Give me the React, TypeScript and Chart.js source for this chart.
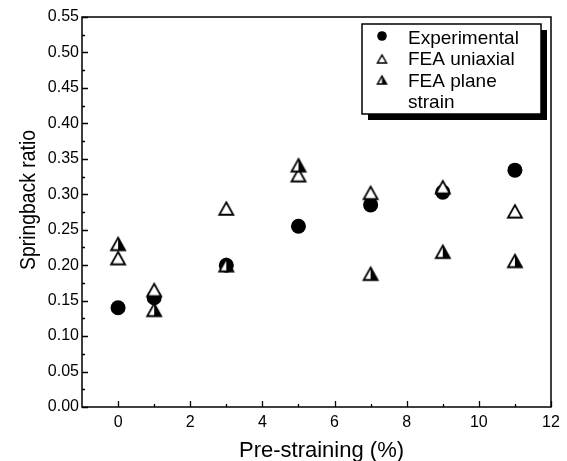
import React, { useEffect, useRef } from 'react';
import { Chart, registerables } from 'chart.js';

Chart.register(...registerables);

// ---- data ----
const preStraining = [0, 1, 3, 5, 7, 9, 11];
const experimental = [0.14, 0.154, 0.2, 0.255, 0.285, 0.303, 0.334];
const feaUniaxial = [0.21, 0.165, 0.28, 0.327, 0.302, 0.31, 0.276];
const feaPlaneStrain = [0.23, 0.137, 0.2, 0.341, 0.188, 0.219, 0.206];

const xTicks = [0, 2, 4, 6, 8, 10, 12];
const xMinorTicks = [1, 3, 5, 7, 9, 11];
const yTicks = [0, 0.05, 0.1, 0.15, 0.2, 0.25, 0.3, 0.35, 0.4, 0.45, 0.5, 0.55];
const yMinorTicks = [0.025, 0.075, 0.125, 0.175, 0.225, 0.275, 0.325, 0.375, 0.425, 0.475, 0.525];
const legendLabels = ['Experimental', 'FEA uniaxial', 'FEA plane', 'strain'];
const xTitle = 'Pre-straining (%)';
const yTitle = 'Springback ratio';

const FONT = '"Liberation Sans", Arial, sans-serif';

function makeTriangle(w: number, h: number, kind: 'open' | 'half', lw: number) {
  const pad = Math.ceil(lw) + 1;
  const c = document.createElement('canvas');
  c.width = Math.ceil(w + pad * 2);
  c.height = Math.ceil(h + pad * 2);
  const ctx = c.getContext('2d')!;
  const cx = c.width / 2;
  const top = (c.height - h) / 2;
  const bot = top + h;
  const l = cx - w / 2;
  const r = cx + w / 2;
  ctx.beginPath();
  ctx.moveTo(cx, top);
  ctx.lineTo(r, bot);
  ctx.lineTo(l, bot);
  ctx.closePath();
  ctx.fillStyle = '#fff';
  ctx.fill();
  if (kind === 'half') {
    ctx.beginPath();
    ctx.moveTo(cx, top);
    ctx.lineTo(r, bot);
    ctx.lineTo(cx, bot);
    ctx.closePath();
    ctx.fillStyle = '#000';
    ctx.fill();
  }
  ctx.beginPath();
  ctx.moveTo(cx, top);
  ctx.lineTo(r, bot);
  ctx.lineTo(l, bot);
  ctx.closePath();
  ctx.lineWidth = lw;
  ctx.lineJoin = 'miter';
  ctx.strokeStyle = '#000';
  ctx.stroke();
  return c;
}

export default function App() {
  const ref = useRef<HTMLCanvasElement | null>(null);

  useEffect(() => {
    const canvas = ref.current;
    if (!canvas) return;

    const openTri = makeTriangle(14, 12.5, 'open', 1.8);
    const halfTri = makeTriangle(14, 12.5, 'half', 1.8);
    const openTriSmall = makeTriangle(9, 8, 'open', 1.5);
    const halfTriSmall = makeTriangle(9, 8, 'half', 1.5);

    const framePlugin = {
      id: 'frame',
      afterDraw(chart: any) {
        const ctx = chart.ctx as CanvasRenderingContext2D;
        const a = chart.chartArea;
        const xs = chart.scales.x;
        const ys = chart.scales.y;
        ctx.save();
        ctx.strokeStyle = '#000';
        ctx.lineWidth = 1.5;
        ctx.strokeRect(a.left, a.top, a.right - a.left, a.bottom - a.top);

        ctx.lineWidth = 1.3;
        ctx.beginPath();
        xTicks.forEach((v) => {
          const px = Math.round(xs.getPixelForValue(v)) + 0.5;
          ctx.moveTo(px, a.bottom);
          ctx.lineTo(px, a.bottom - 6);
        });
        xMinorTicks.forEach((v) => {
          const px = Math.round(xs.getPixelForValue(v)) + 0.5;
          ctx.moveTo(px, a.bottom);
          ctx.lineTo(px, a.bottom - 3);
        });
        yTicks.forEach((v) => {
          const py = Math.round(ys.getPixelForValue(v)) + 0.5;
          ctx.moveTo(a.left, py);
          ctx.lineTo(a.left + 6, py);
        });
        yMinorTicks.forEach((v) => {
          const py = Math.round(ys.getPixelForValue(v)) + 0.5;
          ctx.moveTo(a.left, py);
          ctx.lineTo(a.left + 3, py);
        });
        ctx.stroke();

        // axis titles
        ctx.fillStyle = '#000';
        ctx.font = `22px ${FONT}`;
        ctx.textAlign = 'center';
        ctx.textBaseline = 'alphabetic';
        ctx.fillText(xTitle, (a.left + a.right) / 2 + 5, 457);

        ctx.save();
        ctx.translate(35, (a.top + a.bottom) / 2 - 12);
        ctx.rotate(-Math.PI / 2);
        ctx.scale(0.88, 1);
        ctx.font = `22px ${FONT}`;
        ctx.fillText(yTitle, 0, 0);
        ctx.restore();

        // legend
        const bx = 362, by = 24, bw = 179, bh = 90, sh = 6;
        ctx.fillStyle = '#000';
        ctx.fillRect(bx + sh, by + sh, bw, bh);
        ctx.fillStyle = '#fff';
        ctx.fillRect(bx, by, bw, bh);
        ctx.lineWidth = 1.5;
        ctx.strokeRect(bx, by, bw, bh);

        ctx.fillStyle = '#000';
        ctx.beginPath();
        ctx.arc(382, 36, 4.8, 0, Math.PI * 2);
        ctx.fill();
        ctx.drawImage(openTriSmall, 382 - openTriSmall.width / 2, 59 - openTriSmall.height / 2);
        ctx.drawImage(halfTriSmall, 382 - halfTriSmall.width / 2, 80 - halfTriSmall.height / 2);

        ctx.font = `19px ${FONT}`;
        ctx.textAlign = 'left';
        const baselines = [43.5, 65, 86.5, 108];
        legendLabels.forEach((t, i) => ctx.fillText(t, 408, baselines[i]));
        ctx.restore();
      },
    };

    const chart = new Chart(canvas, {
      type: 'scatter',
      data: {
        datasets: [
          {
            label: 'Experimental',
            data: preStraining.map((x, i) => ({ x, y: experimental[i] })),
            pointStyle: 'circle',
            pointRadius: 7.5,
            backgroundColor: '#000',
            borderColor: '#000',
            borderWidth: 0,
            order: 3,
          },
          {
            label: 'FEA uniaxial',
            data: preStraining.map((x, i) => ({ x, y: feaUniaxial[i] })),
            pointStyle: openTri as any,
            order: 2,
          },
          {
            label: 'FEA plane strain',
            data: preStraining.map((x, i) => ({ x, y: feaPlaneStrain[i] })),
            pointStyle: halfTri as any,
            order: 1,
          },
        ],
      },
      options: {
        animation: false,
        responsive: false,
        devicePixelRatio: 1,
        layout: { padding: { top: 17, right: 16, left: 0, bottom: 0 } },
        plugins: {
          legend: { display: false },
          tooltip: { enabled: false },
        },
        scales: {
          x: {
            type: 'linear',
            min: -1,
            max: 12,
            grid: { display: false, drawTicks: false },
            border: { display: false },
            ticks: { color: '#000', font: { family: FONT, size: 16 }, padding: 6 },
            afterBuildTicks: (s: any) => {
              s.ticks = xTicks.map((v) => ({ value: v }));
            },
            afterFit: (s: any) => {
              s.height = 54;
            },
          },
          y: {
            type: 'linear',
            min: 0,
            max: 0.55,
            grid: { display: false, drawTicks: false },
            border: { display: false },
            ticks: {
              color: '#000',
              font: { family: FONT, size: 16 },
              padding: 3,
              callback: (v: any) => Number(v).toFixed(2),
            },
            afterBuildTicks: (s: any) => {
              s.ticks = yTicks.map((v) => ({ value: v }));
            },
            afterFit: (s: any) => {
              s.width = 82;
            },
          },
        },
      },
      plugins: [framePlugin],
    } as any);

    return () => chart.destroy();
  }, []);

  return (
    <div style={{ position: 'absolute', left: 0, top: 0, width: 567, height: 461, background: '#fff' }}>
      <canvas ref={ref} width={567} height={461} style={{ display: 'block' }} />
    </div>
  );
}
